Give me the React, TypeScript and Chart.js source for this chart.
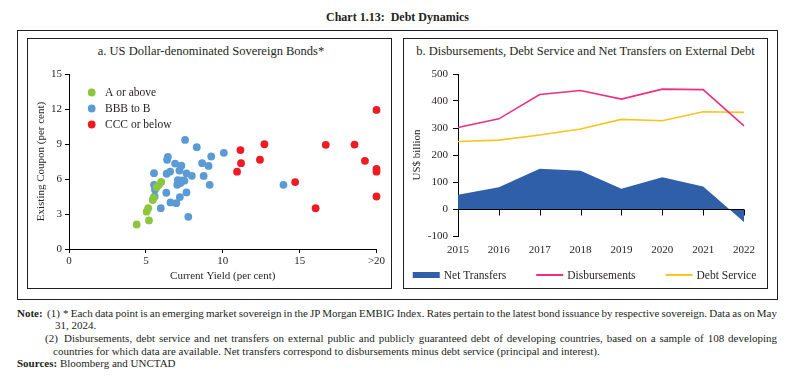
import React, { useEffect, useRef } from "react";
import { Chart, registerables } from "chart.js";

Chart.register(...registerables);

const FONT = "'Liberation Serif', 'DejaVu Serif', serif";
const INK = "#231f20";

// ---------- Panel a: US Dollar-denominated Sovereign Bonds ----------
const ratingLabels = ["A or above", "BBB to B", "CCC or below"];
const ratingColors = ["#8cc63f", "#5b9bd5", "#ed1c24"];

const aAboveYield = [4.4, 5.2, 5.05, 5.15, 5.45, 5.5, 5.7, 5.85, 6.0];
const aAboveCoupon = [2.1, 2.45, 3.2, 3.5, 4.2, 4.4, 5.3, 5.5, 5.75];

const bbbYield = [
  7.55, 8.31, 10.07, 9.25, 6.43, 6.38, 6.9, 7.31, 7.18, 8.66, 9.08, 6.58, 6.35,
  5.53, 7.64, 7.99, 8.76, 7.08, 7.5, 7.33, 7.25, 7.04, 5.53, 5.59, 9.15, 13.95,
  6.33, 7.64, 7.21, 5.57, 6.6, 6.98, 5.97, 7.76,
];
const bbbCoupon = [
  9.35, 8.73, 8.24, 7.93, 7.9, 7.65, 7.32, 7.14, 6.72, 7.36, 7.12, 6.64, 6.45,
  6.5, 6.48, 6.27, 6.26, 5.9, 5.86, 5.88, 5.65, 5.5, 5.5, 5.1, 5.5, 5.5, 4.82,
  4.85, 4.45, 4.5, 3.99, 3.93, 3.5, 2.76,
];

const cccYield = [20, 12.71, 16.7, 18.57, 11.15, 12.42, 19.25, 11.19, 10.93, 20, 20, 14.71, 16.04, 20];
const cccCoupon = [11.92, 8.98, 8.93, 8.95, 8.48, 7.65, 7.56, 7.36, 6.63, 6.86, 6.63, 5.74, 3.5, 4.5];

const yieldTickValues = [0, 5, 10, 15, 20];
const yieldTickLabels = ["0", "5", "10", "15", ">20"];

// ---------- Panel b: Disbursements, Debt Service and Net Transfers ----------
const years = ["2015", "2016", "2017", "2018", "2019", "2020", "2021", "2022"];
const netTransfers = [53, 81, 149, 142, 75, 118, 83, -48];
const disbursements = [302, 334, 424, 439, 407, 444, 442, 308];
const debtService = [250, 255, 274, 296, 332, 327, 360, 358];

const seriesLabels = ["Net Transfers", "Disbursements", "Debt Service"];
const seriesColors = ["#2f5fa9", "#ec2f83", "#f7c51f"];

const toPoints = (xs: number[], ys: number[]) => xs.map((x, i) => ({ x, y: ys[i] }));

const scatterLegend = {
  id: "scatterLegend",
  afterDraw(chart: any) {
    const { ctx, chartArea } = chart;
    ctx.save();
    ctx.font = `11.5px ${FONT}`;
    ctx.textBaseline = "middle";
    ctx.textAlign = "left";
    chart.data.datasets.forEach((ds: any, i: number) => {
      const y = chartArea.top + 18.5 + i * 16;
      const x = chartArea.left + 22.7;
      ctx.beginPath();
      ctx.arc(x, y, 3.9, 0, Math.PI * 2);
      ctx.fillStyle = ds.backgroundColor;
      ctx.fill();
      ctx.fillStyle = INK;
      ctx.fillText(ds.label, chartArea.left + 36, y + 0.5);
    });
    ctx.restore();
  },
};

const zeroAxis = {
  id: "zeroAxis",
  afterDatasetsDraw(chart: any) {
    const { ctx, chartArea, scales } = chart;
    const y0 = Math.round(scales.y.getPixelForValue(0)) + 0.5;
    ctx.save();
    ctx.strokeStyle = "#000";
    ctx.lineWidth = 1;
    ctx.beginPath();
    ctx.moveTo(chartArea.left, y0);
    ctx.lineTo(chartArea.right, y0);
    chart.data.labels.forEach((_: any, i: number) => {
      const px = Math.round(scales.x.getPixelForValue(i)) + 0.5;
      ctx.moveTo(px, y0);
      ctx.lineTo(px, y0 + 6);
    });
    ctx.stroke();
    ctx.restore();
  },
};

const lineLegend = {
  id: "lineLegend",
  afterDraw(chart: any) {
    const { ctx, chartArea } = chart;
    ctx.save();
    ctx.font = `11.5px ${FONT}`;
    ctx.textBaseline = "middle";
    ctx.textAlign = "left";
    const boxW = 27;
    const gapText = 4;
    const gapItem = 30;
    const items = chart.data.datasets.map((ds: any) => ({
      ds,
      w: boxW + gapText + ctx.measureText(ds.label).width,
    }));
    const total = items.reduce((s: number, it: any) => s + it.w, 0) + gapItem * (items.length - 1);
    let x = (chart.width - total) / 2 - 1;
    const y = chartArea.bottom + 39;
    items.forEach((it: any) => {
      if (it.ds.fill) {
        ctx.fillStyle = it.ds.backgroundColor;
        ctx.fillRect(x, y - 3, boxW, 6);
      } else {
        ctx.strokeStyle = it.ds.borderColor;
        ctx.lineWidth = 2;
        ctx.beginPath();
        ctx.moveTo(x, y);
        ctx.lineTo(x + boxW, y);
        ctx.stroke();
      }
      ctx.fillStyle = INK;
      ctx.fillText(it.ds.label, x + boxW + gapText, y + 0.5);
      x += it.w + gapItem;
    });
    ctx.restore();
  },
};

const tickFont = { family: FONT, size: 11 };

function ScatterPanel() {
  const ref = useRef<HTMLCanvasElement>(null);
  useEffect(() => {
    const groups = [
      toPoints(aAboveYield, aAboveCoupon),
      toPoints(bbbYield, bbbCoupon),
      toPoints(cccYield, cccCoupon),
    ];
    const chart = new Chart(ref.current!, {
      type: "scatter",
      data: {
        datasets: groups.map((pts, i) => ({
          label: ratingLabels[i],
          data: pts,
          backgroundColor: ratingColors[i],
          borderColor: ratingColors[i],
          borderWidth: 0,
          pointRadius: 3.9,
          clip: false as any,
        })),
      },
      options: {
        animation: false,
        responsive: false,
        layout: { padding: { top: 36, right: 15.5, bottom: 0, left: 0 } },
        plugins: { legend: { display: false }, tooltip: { enabled: false }, title: { display: false } },
        scales: {
          x: {
            type: "linear",
            min: 0,
            max: 20,
            afterFit: (s: any) => {
              s.height = 40;
            },
            afterBuildTicks: (s: any) => {
              s.ticks = yieldTickValues.map((v) => ({ value: v }));
            },
            ticks: {
              font: tickFont,
              color: INK,
              padding: 2,
              callback: (v: any) => {
                const i = yieldTickValues.indexOf(Number(v));
                return i >= 0 ? yieldTickLabels[i] : "";
              },
            },
            grid: { display: true, drawOnChartArea: false, drawTicks: true, tickLength: 4, color: "#000" },
            border: { display: true, color: "#000" },
            title: {
              display: true,
              text: "Current Yield (per cent)",
              font: { family: FONT, size: 11 },
              color: INK,
              padding: { top: 0, bottom: 6 },
            },
          },
          y: {
            type: "linear",
            min: 0,
            max: 15,
            afterFit: (s: any) => {
              s.width = 42;
            },
            ticks: { stepSize: 3, font: tickFont, color: INK, padding: 3 },
            grid: { display: true, drawOnChartArea: false, drawTicks: true, tickLength: 4, color: "#000" },
            border: { display: true, color: "#000" },
            title: {
              display: true,
              text: "Existing Coupon (per cent)",
              font: { family: FONT, size: 11 },
              color: INK,
              padding: { top: 8, bottom: 0 },
            },
          },
        },
      },
      plugins: [scatterLegend],
    } as any);
    return () => chart.destroy();
  }, []);
  return <canvas ref={ref} width={365} height={251} style={{ position: "absolute", left: 27, top: 38 }} />;
}

function LinePanel() {
  const ref = useRef<HTMLCanvasElement>(null);
  useEffect(() => {
    const chart = new Chart(ref.current!, {
      type: "line",
      data: {
        labels: years,
        datasets: [
          {
            label: seriesLabels[0],
            data: netTransfers,
            fill: "origin",
            backgroundColor: seriesColors[0],
            borderColor: seriesColors[0],
            borderWidth: 0,
            pointRadius: 0,
            tension: 0,
            order: 3,
          },
          {
            label: seriesLabels[1],
            data: disbursements,
            fill: false,
            borderColor: seriesColors[1],
            backgroundColor: seriesColors[1],
            borderWidth: 1.6,
            pointRadius: 0,
            tension: 0,
            order: 1,
          },
          {
            label: seriesLabels[2],
            data: debtService,
            fill: false,
            borderColor: seriesColors[2],
            backgroundColor: seriesColors[2],
            borderWidth: 1.6,
            pointRadius: 0,
            tension: 0,
            order: 2,
          },
        ],
      },
      options: {
        animation: false,
        responsive: false,
        layout: { padding: { top: 36, right: 24, bottom: 0, left: 0 } },
        plugins: { legend: { display: false }, tooltip: { enabled: false }, title: { display: false } },
        scales: {
          x: {
            type: "category",
            offset: false,
            afterFit: (s: any) => {
              s.height = 53;
            },
            ticks: { font: tickFont, color: INK, padding: 8, maxRotation: 0, autoSkip: false },
            grid: { display: false, drawTicks: false },
            border: { display: false },
          },
          y: {
            type: "linear",
            min: -100,
            max: 500,
            afterFit: (s: any) => {
              s.width = 55;
            },
            ticks: { stepSize: 100, font: tickFont, color: INK, padding: 5 },
            grid: { display: true, drawOnChartArea: false, drawTicks: true, tickLength: 5, color: "#000" },
            border: { display: true, color: "#000" },
            title: {
              display: true,
              text: "US$ billion",
              font: { family: FONT, size: 11 },
              color: INK,
              padding: { top: 8, bottom: 0 },
            },
          },
        },
      },
      plugins: [zeroAxis, lineLegend],
    } as any);
    return () => chart.destroy();
  }, []);
  return <canvas ref={ref} width={365} height={251} style={{ position: "absolute", left: 403, top: 38 }} />;
}

const noteStyle: React.CSSProperties = {
  position: "absolute",
  fontFamily: FONT,
  fontSize: 11,
  color: INK,
  whiteSpace: "nowrap",
  lineHeight: "12px",
};

const justified: any = {
  textAlign: "justify",
  textAlignLast: "justify",
  wordSpacing: "-1.5px",
  overflow: "hidden",
};

export default function App() {
  return (
    <div
      style={{
        position: "absolute",
        left: 0,
        top: 0,
        width: 789,
        height: 379,
        background: "#fff",
        fontFamily: FONT,
        color: INK,
        overflow: "hidden",
      }}
    >
      <div
        style={{
          position: "absolute",
          left: 0,
          width: 789,
          top: 9,
          textAlign: "center",
          fontSize: 12,
          fontWeight: "bold",
          lineHeight: "16px",
          paddingLeft: 6,
          boxSizing: "border-box",
        }}
      >
        Chart 1.13:&nbsp; Debt Dynamics
      </div>
      <div style={{ position: "absolute", left: 17, top: 30, width: 761, height: 270, border: `1px solid ${INK}`, boxSizing: "border-box" }} />
      <div style={{ position: "absolute", left: 27, top: 38, width: 365, height: 251, border: `1px solid ${INK}`, boxSizing: "border-box" }} />
      <div style={{ position: "absolute", left: 403, top: 38, width: 365, height: 251, border: `1px solid ${INK}`, boxSizing: "border-box" }} />
      <div style={{ position: "absolute", left: 27, width: 365, top: 43, textAlign: "center", fontSize: 12.5, lineHeight: "16px", paddingLeft: 3, boxSizing: "border-box" }}>
        a. US Dollar-denominated Sovereign Bonds*
      </div>
      <div style={{ position: "absolute", left: 403, width: 365, top: 43, textAlign: "center", fontSize: 12.5, lineHeight: "16px", boxSizing: "border-box" }}>
        b. Disbursements, Debt Service and Net Transfers on External Debt
      </div>
      <ScatterPanel />
      <LinePanel />

      <div style={{ ...noteStyle, left: 17, top: 307, fontWeight: "bold" }}>Note:</div>
      <div style={{ ...noteStyle, left: 47, top: 307 }}>(1)</div>
      <div style={{ ...noteStyle, ...justified, left: 63, top: 307, width: 714 }}>
        * Each data point is an emerging market sovereign in the JP Morgan EMBIG Index. Rates pertain to the latest bond issuance by respective sovereign. Data as on May
      </div>
      <div style={{ ...noteStyle, left: 55, top: 319 }}>31, 2024.</div>
      <div style={{ ...noteStyle, left: 45, top: 332 }}>(2)</div>
      <div style={{ ...noteStyle, ...justified, left: 64, top: 332, width: 713 }}>
        Disbursements, debt service and net transfers on external public and publicly guaranteed debt of developing countries, based on a sample of 108 developing
      </div>
      <div style={{ ...noteStyle, left: 53, top: 345 }}>
        countries for which data are available. Net transfers correspond to disbursements minus debt service (principal and interest).
      </div>
      <div style={{ ...noteStyle, left: 17, top: 357 }}>
        <b>Sources:</b> Bloomberg and UNCTAD
      </div>
    </div>
  );
}
